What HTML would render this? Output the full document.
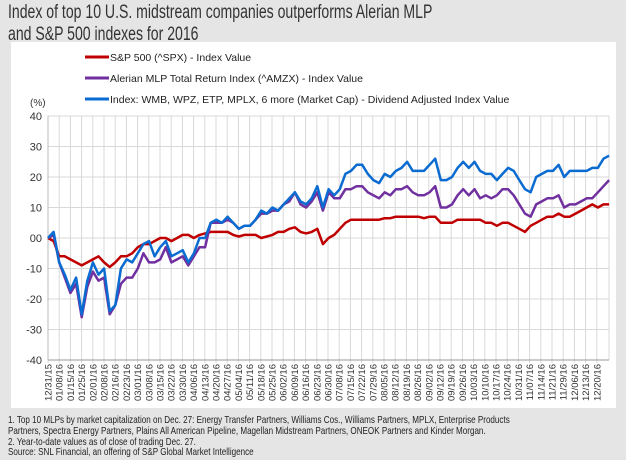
<!DOCTYPE html>
<html><head><meta charset="utf-8"><style>
body{margin:0;width:626px;height:460px;background:#e4e5e4;font-family:"Liberation Sans",sans-serif;overflow:hidden;position:relative}
#title{position:absolute;left:8px;top:2px;font-size:19px;line-height:22px;color:#333;white-space:nowrap;transform:scaleX(0.74);transform-origin:0 0}
#panel{position:absolute;left:11px;top:42px;width:605px;height:366px;background:#fff}
#foot{position:absolute;left:8px;top:415px;font-size:10.5px;line-height:10.8px;color:#222;white-space:nowrap;transform:scaleX(0.77);transform-origin:0 0}
svg{position:absolute;left:0;top:0}
</style></head><body>
<div id="title">Index of top 10 U.S. midstream companies outperforms Alerian MLP<br>and S&amp;P 500 indexes for 2016</div>
<div id="panel"></div>
<svg id="chart" width="626" height="460"></svg>
<div id="foot">1. Top 10 MLPs by market capitalization on Dec. 27: Energy Transfer Partners, Williams Cos., Williams Partners, MPLX, Enterprise Products<br>Partners, Spectra Energy Partners, Plains All American Pipeline, Magellan Midstream Partners, ONEOK Partners and Kinder Morgan.<br>2. Year-to-date values as of close of trading Dec. 27.<br>Source: SNL Financial, an offering of S&amp;P Global Market Intelligence</div>
<script>
const tickLabels=["12/31/15","01/08/16","01/15/16","01/25/16","02/01/16","02/08/16","02/16/16","02/23/16","03/01/16","03/08/16","03/15/16","03/22/16","03/30/16","04/06/16","04/13/16","04/20/16","04/27/16","05/04/16","05/11/16","05/18/16","05/25/16","06/02/16","06/09/16","06/16/16","06/23/16","06/30/16","07/08/16","07/15/16","07/22/16","07/29/16","08/05/16","08/12/16","08/19/16","08/26/16","09/02/16","09/12/16","09/19/16","09/26/16","10/03/16","10/10/16","10/17/16","10/24/16","10/31/16","11/07/16","11/14/16","11/21/16","11/29/16","12/06/16","12/13/16","12/20/16"];
const yTicks=[40,30,20,10,0,-10,-20,-30,-40];
const yTickLabels=["40","30","20","10","00","-10","-20","-30","-40"];
const seriesNames=["S&P 500 (^SPX) - Index Value","Alerian MLP Total Return Index (^AMZX) - Index Value","Index: WMB, WPZ, ETP, MPLX, 6 more (Market Cap) - Dividend Adjusted Index Value"];
const spx=[0,-1,-6,-6,-7,-8,-9,-8,-7,-6,-8,-9.5,-8,-6,-6,-5,-3,-2,-2,-1,0,0,-1,0,1,1,0,1,1.5,2,2,2,2,1,0.5,1,1,1,0,0.5,1,2,2,3,3.5,2,1.5,2,3,-2,0,1,3,5,6,6,6,6,6,6,6.5,6.5,7,7,7,7,7,6.5,7,7,5,5,5,6,6,6,6,6,5,5,4,5,5,4,3,2,4,5,6,7,7,8,7,7,8,9,10,11,10,11,11];
const amzx=[0,1,-8,-13,-18,-15,-26,-16,-11,-14,-13,-25,-22,-15,-13,-13,-10,-5,-8,-8,-7,-3,-8,-7,-6,-9,-6,-3,-3,5,5,5,6,5,3,4,4,6,8,8,9,9,11,12,15,11,10,12,15,9,15,13,13,16,16,17,17,15,14,13,15,14,16,16,17,15,14,14,15,17,10,10,11,14,16,14,16,13,14,13,14,16,16,14,11,8,7,11,12,13,13,14,10,11,11,12,13,13,15,17,19];
const idx=[0,2,-8,-12,-17,-13,-25,-14,-8,-12,-10,-24,-22,-10,-7,-8,-5,-2,-1,-6,-3,-1,-6,-5,-4,-8,-5,0,0,5,6,5,7,5,3,4,4,6,9,8,10,9,11,13,15,12,11,13,17,10,16,14,16,21,22,24,24,21,19,18,21,20,22,23,25,22,22,22,24,26,19,19,20,23,25,23,25,22,21,21,19,21,23,22,19,16,15,20,21,22,22,24,20,22,22,22,22,23,23,26,27];
const colors=["#c00000","#7030a0","#0a6bd1"];
const NS="http://www.w3.org/2000/svg";
const svg=document.getElementById('chart');
const X0=48,TW=11.2,Y0=238,YS=3.05,XR=609;
const xS=t=>X0+t*TW;
const yS=v=>Y0-v*YS;
function mk(tag,attrs,parent){const e=document.createElementNS(NS,tag);for(const k in attrs)e.setAttribute(k,attrs[k]);(parent||svg).appendChild(e);return e;}
yTicks.forEach((v,i)=>{
  const l=mk('line',{x1:X0,x2:XR,y1:yS(v),y2:yS(v),stroke:'#d8d8d8','stroke-width':1});
  
  
  const t=mk('text',{x:42,y:yS(v)+4,'text-anchor':'end','font-size':11,fill:'#333'});
  t.textContent=yTickLabels[i];
  
  
});
tickLabels.forEach((lab,i)=>{
  const x=xS(i);
  const l=mk('line',{x1:x,x2:x,y1:yS(40),y2:yS(-40)+3,stroke:'#d8d8d8','stroke-width':1});
  
  
  const t=mk('text',{transform:`translate(${x+3.5},${yS(-40)+4}) rotate(-90)`,'text-anchor':'end','font-size':9.5,fill:'#333'});
  t.textContent=lab;
  
  
});
const rl=mk('line',{x1:XR,x2:XR,y1:yS(40),y2:yS(-40),stroke:'#d8d8d8'});


const xa=mk('line',{x1:X0,x2:XR,y1:yS(-40),y2:yS(-40),stroke:'#999'});


const ya=mk('line',{x1:X0,x2:X0,y1:yS(40),y2:yS(-40),stroke:'#bbb'});


const pu=mk('text',{x:30,y:106,'font-size':10,fill:'#333'});
pu.textContent='(%)';


const allSeries=[spx,amzx,idx];
const sNames=['series-spx','series-amzx','series-midstream-index'];
[0,1,2].forEach(si=>{
  const vals=allSeries[si];
  const n=vals.length;
  const tMax=50.1;
  const d=vals.map((v,i)=>(i?'L':'M')+xS(i*tMax/(n-1)).toFixed(1)+','+yS(v).toFixed(1)).join(' ');
  const p=mk('path',{d:d,fill:'none',stroke:colors[si],'stroke-width':2.5,'stroke-linejoin':'round'});
  
  
});
const legY=[57,78,99];
seriesNames.forEach((nm,i)=>{
  const g=mk('g',{});
  
  
  mk('line',{x1:85,x2:109,y1:legY[i],y2:legY[i],stroke:colors[i],'stroke-width':3},g);
  const t=mk('text',{x:110,y:legY[i]+4,'font-size':10.5,fill:'#222'},g);
  t.textContent=nm;
});
</script>
</body></html>
